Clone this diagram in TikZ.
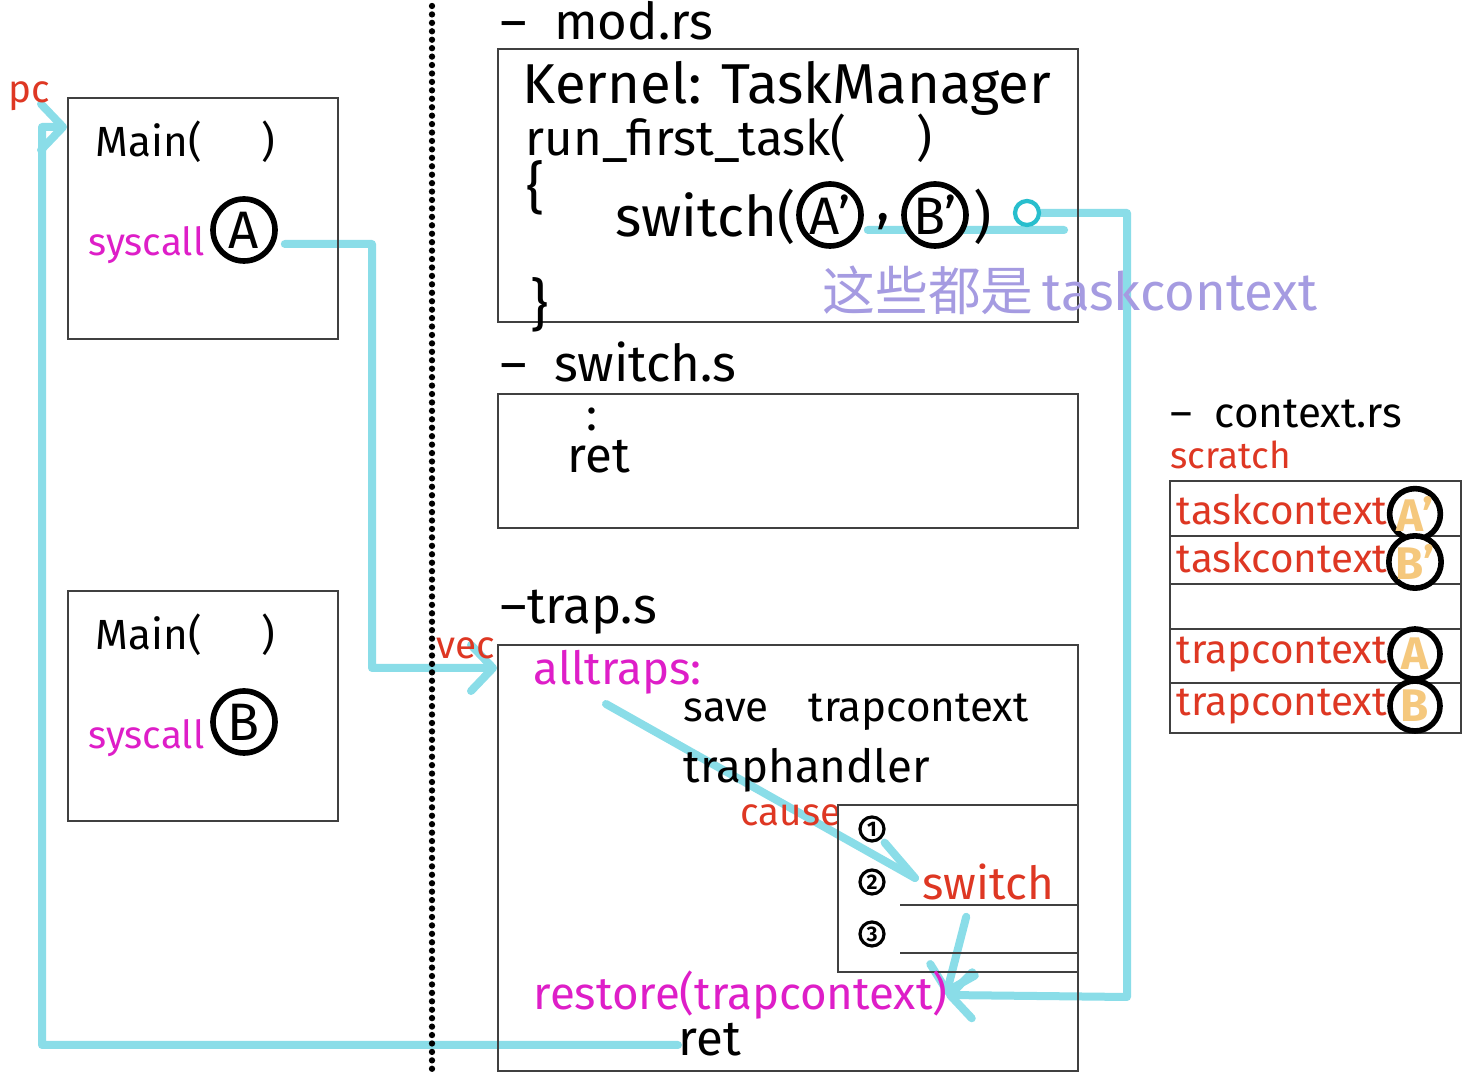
\documentclass[tikz,border=0pt]{standalone}
\usepackage{fontspec}
\setmainfont{Fira Sans}
\newfontfamily\cjkfont{Noto Sans CJK SC}
\usetikzlibrary{arrows.meta,backgrounds}
\definecolor{flowc}{RGB}{138,221,232}
\definecolor{ringc}{RGB}{40,190,205}
\definecolor{callc}{RGB}{222,30,200}
\definecolor{noter}{RGB}{222,55,35}
\definecolor{notep}{RGB}{165,155,225}
\definecolor{letterc}{RGB}{245,200,125}

\begin{document}
\begin{tikzpicture}[x=0.1mm,y=-0.1mm,
    box/.style={draw=black!75,line width=0.5pt,anchor=north west,inner sep=0},
    txt/.style={anchor=west,inner sep=0,font=\fontsize{13}{15}\selectfont},
    head/.style={txt,font=\fontsize{14.5}{17}\selectfont},
    call/.style={txt,text=callc},
    note/.style={txt,text=noter},
    ring/.style={circle,draw,line width=1.6pt,fill=white,minimum size=6.2mm,inner sep=0,font=\fontsize{15}{17}\selectfont},
    cell/.style={ring,minimum size=5mm,text=letterc,font=\fontsize{13}{15}\selectfont\bfseries},
    num/.style={circle,draw,line width=0.9pt,minimum size=2.4mm,inner sep=0,font=\fontsize{6}{6}\selectfont\bfseries},
    row/.style={box,minimum width=29.1mm},
    flow/.style={draw=flowc,line width=0.8mm,line cap=round,line join=round},
    tip/.style={-{Straight Barb[length=2.2mm,width=4.6mm,round]}}]
    \begin{pgfonlayer}{background}
    \fill[white] (0,0) rectangle (1464,1079);
    \end{pgfonlayer}
    \useasboundingbox (0,0) rectangle (1464,1079);
    \draw[line width=1.8pt,line cap=round,dash pattern=on 0pt off 2.4pt] (432,6) -- (432,1076);

    \node[box,minimum width=27mm,minimum height=24.1mm] (mainA) at (67,97) {};
    \node[txt,font=\fontsize{12}{14}\selectfont] (mA) at (95,142) {Main(\hspace{6mm})};
    \node[call,font=\fontsize{11}{13}\selectfont] (scA) at (88,245) {syscall};
    \node[ring] (ca) at (244,230) {A};
    \node[note,font=\fontsize{11}{13}\selectfont] (pc) at (8,96) {pc};

    \node[box,minimum width=27mm,minimum height=23mm] (mainB) at (67,590) {};
    \node[txt,font=\fontsize{12}{14}\selectfont] (mB) at (95,635) {Main(\hspace{6mm})};
    \node[call,font=\fontsize{11}{13}\selectfont] (scB) at (88,738) {syscall};
    \node[ring] (cb) at (244,722) {B};

    \node[head] (modl) at (500,21) {–\ \ mod.rs};
    \node[box,minimum width=58mm,minimum height=27.3mm] (mod) at (497,48) {};
    \node[txt,font=\fontsize{16}{18}\selectfont] (km) at (522,88) {Kernel: TaskManager};
    \node[txt,font=\fontsize{14}{16}\selectfont] (rft) at (525,138) {run\_first\_task(\hspace{7mm})};
    \node[txt,font=\fontsize{16}{18}\selectfont] (lb) at (526,188) {\{};
    \node[txt,font=\fontsize{16}{18}\selectfont] (swc) at (615,217) {switch(};
    \node[ring] (ca2) at (830,215) {A'};
    \node[txt,font=\fontsize{16}{18}\selectfont] (cm) at (876,222) {,};
    \node[ring] (cb2) at (935,215) {B'};
    \node[txt,font=\fontsize{16}{18}\selectfont] (rp) at (973,217) {)};
    \node[circle,draw=ringc,line width=1.2pt,fill=white,minimum size=2.4mm,inner sep=0] (sw) at (1027,213) {};
    \node[txt,font=\fontsize{16}{18}\selectfont] (rb) at (530,305) {\}};
    \node[txt,text=notep,font=\fontsize{15}{17}\selectfont] (ctxnote) at (822,290) {{\cjkfont 这些都是}\,taskcontext};

    \node[head] (swl) at (500,362) {–\ \ switch.s};
    \node[box,minimum width=58mm,minimum height=13.4mm] (swb) at (497,393) {};
    \node[txt] (dots) at (586,419) {:};
    \node[txt,font=\fontsize{14}{16}\selectfont] (ret1) at (567,457) {ret};

    \node[txt,font=\fontsize{12}{14}\selectfont] (ctxl) at (1170,414) {–\ \ context.rs};
    \node[note,font=\fontsize{10.5}{12}\selectfont] (scr) at (1170,455) {scratch};
    \node[row,minimum height=5.5mm] (r1) at (1169,480) {};
    \node[row,minimum height=4.8mm] (r2) at (1169,535) {};
    \node[row,minimum height=4.5mm] (r3) at (1169,583) {};
    \node[row,minimum height=5.4mm] (r4) at (1169,628) {};
    \node[row,minimum height=5mm] (r5) at (1169,682) {};
    \node[note,font=\fontsize{11.5}{14}\selectfont] (t1) at (1176,510) {taskcontext};
    \node[note,font=\fontsize{11.5}{14}\selectfont] (t2) at (1176,558) {taskcontext};
    \node[note,font=\fontsize{11.5}{14}\selectfont] (t4) at (1176,655) {trapcontext};
    \node[note,font=\fontsize{11.5}{14}\selectfont] (t5) at (1176,707) {trapcontext};
    \node[cell] (c1) at (1415,514) {A'};
    \node[cell] (c2) at (1415,562) {B'};
    \node[cell] (c4) at (1415,654) {A};
    \node[cell] (c5) at (1415,706) {B};

    \node[head] (trl) at (500,612) {–trap.s};
    \node[box,minimum width=58mm,minimum height=42.6mm] (trap) at (497,644) {};
    \node[note,font=\fontsize{11}{13}\selectfont] (vec) at (436,648) {vec};
    \node[call] (alltraps) at (533,672) {alltraps:};
    \node[txt,font=\fontsize{12}{14}\selectfont] (save) at (683,712) {save\hspace{4mm}trapcontext};
    \node[txt] (th) at (683,770) {traphandler};
    \node[note,font=\fontsize{11}{13}\selectfont] (cause) at (740,815) {cause};
    \node[box,minimum width=24mm,minimum height=16.7mm] (cz) at (837,804) {};
    \node[num] (n1) at (872,829) {1};
    \node[num] (n2) at (872,882) {2};
    \node[num] (n3) at (872,934) {3};
    \node[note] (swred) at (922,882) {switch};
    \draw[black!75,line width=0.5pt] (900,905) -- (cz.east |- 0,905)
        (900,953) -- (cz.east |- 0,953);
    \node[call] (rst) at (533,995) {restore(trapcontext)};
    \node[txt,font=\fontsize{14}{16}\selectfont] (ret2) at (678,1040) {ret};

    \coordinate (vecin) at ([yshift=-2.4mm]trap.north west);
    \coordinate (pcin) at ([yshift=-3mm]mainA.north west);
    \coordinate (rail0) at (42,1045);
    \coordinate (rail1) at (372,668);
    \coordinate (rail2) at (1127,997);
    \coordinate (rstin) at ([xshift=-0.2mm]rst.east);
    \coordinate (dstart) at ([shift={(7.3mm,-3.2mm)}]alltraps.west);

    \begin{pgfonlayer}{background}
    \draw[flow,tip] ([shift={(0.7mm,-1.4mm)}]ca.east) -| (rail1) -- (vecin);
    \draw[flow,tip] ([yshift=-0.5mm]ret2.west) -- (rail0) |- (pcin);
    \draw[flow,tip] (sw.east) -| (rail2) -- (rstin);
    \draw[flow] ([shift={(0.4mm,-1.5mm)}]ca2.east) -- ([shift={(2.3mm,-1.7mm)}]sw.east);
    \draw[flow] (dstart) -- ([shift={(-0.7mm,0.4mm)}]swred.west);
    \draw[flow] ([shift={(0.3mm,-0.4mm)}]n1.south east) -- ([shift={(-0.7mm,0.4mm)}]swred.west);
    \draw[flow,tip] ([shift={(-2.2mm,-1.6mm)}]swred.south) -- (rstin);
    \end{pgfonlayer}
\end{tikzpicture}
\end{document}
